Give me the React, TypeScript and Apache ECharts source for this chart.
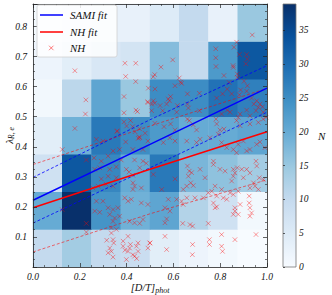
import React, { useEffect, useRef } from "react";
import * as echarts from "echarts";

// ---- data ----
const xBinLabels = ["0.0625", "0.1875", "0.3125", "0.4375", "0.5625", "0.6875", "0.8125", "0.9375"];
const yBinLabels = ["0.0625", "0.1875", "0.3125", "0.4375", "0.5625", "0.6875", "0.8125"];
// counts per row, bottom row first
const countRow0 = [10, 14, 10, 9, 4, 2, 1, 0];
const countRow1 = [20, 39, 24, 19, 21, 12, 8, 1];
const countRow2 = [8, 33, 26, 20, 28, 18, 16, 14];
const countRow3 = [4, 19, 28, 25, 23, 20, 20, 21];
const countRow4 = [1, 11, 21, 15, 25, 25, 29, 27];
const countRow5 = [2, 4, 6, 7, 17, 10, 23, 33];
const countRow6 = [1, 2, 3, 3, 5, 10, 3, 15];
const countRows = [countRow0, countRow1, countRow2, countRow3, countRow4, countRow5, countRow6];
const countMax = 38.9;
const blues = ["#f7fbff", "#deebf7", "#c6dbef", "#9ecae1", "#6baed6", "#4292c6", "#2171b5", "#08519c", "#08306b"];

const samiFit = [[0, 0.222], [0.5, 0.408], [1, 0.595]];
const samiUpper = [[0, 0.298], [0.5, 0.49], [1, 0.67]];
const samiLower = [[0, 0.146], [0.5, 0.33], [1, 0.515]];
const nhFit = [[0, 0.197], [0.5, 0.325], [1, 0.45]];
const nhUpper = [[0, 0.341], [0.5, 0.469], [1, 0.594]];
const nhLower = [[0, 0.05], [0.5, 0.177], [1, 0.29]];

const nhPoints = [
  // upper left
  [0.179, 0.653], [0.393, 0.678], [0.439, 0.678], [0.396, 0.634], [0.439, 0.617], [0.226, 0.556],
  [0.389, 0.567], [0.224, 0.509], [0.446, 0.517], [0.44, 0.522], [0.179, 0.461], [0.389, 0.513],
  [0.359, 0.451], [0.389, 0.483], [0.417, 0.487], [0.4, 0.469], [0.426, 0.467], [0.36, 0.453],
  [0.454, 0.433], [0.479, 0.445], [0.45, 0.428], [0.436, 0.45], [0.493, 0.595], [0.49, 0.55],
  [0.455, 0.46], [0.491, 0.547],
  // upper right
  [0.937, 0.772], [0.87, 0.748], [0.859, 0.731], [0.781, 0.726], [0.882, 0.707], [0.913, 0.707],
  [0.916, 0.692], [0.781, 0.696], [0.91, 0.676], [0.597, 0.689], [0.547, 0.665], [0.782, 0.667],
  [0.855, 0.67], [0.856, 0.664], [0.52, 0.64], [0.514, 0.633], [0.625, 0.629], [0.631, 0.615],
  [0.635, 0.611], [0.873, 0.642], [0.873, 0.631], [0.816, 0.637], [0.838, 0.614], [0.902, 0.618],
  [0.916, 0.603], [0.607, 0.603], [0.521, 0.592], [0.83, 0.592], [0.887, 0.589], [0.913, 0.585],
  [0.66, 0.576], [0.711, 0.578], [0.588, 0.567], [0.578, 0.559], [0.583, 0.553], [0.81, 0.576],
  [0.849, 0.576], [0.882, 0.573], [0.785, 0.562], [0.934, 0.562], [0.956, 0.553], [0.944, 0.542],
  [0.97, 0.542], [0.981, 0.533], [0.963, 0.531], [0.953, 0.52], [0.984, 0.515], [0.996, 0.498],
  [0.514, 0.553], [0.52, 0.545], [0.507, 0.542], [0.571, 0.542], [0.543, 0.537], [0.554, 0.52],
  [0.66, 0.542], [0.664, 0.529], [0.617, 0.537], [0.614, 0.515], [0.507, 0.52], [0.711, 0.52],
  [0.806, 0.509], [0.83, 0.522], [0.842, 0.515], [0.877, 0.498], [0.885, 0.509], [0.913, 0.522],
  [0.927, 0.503], [0.782, 0.492], [0.785, 0.476], [0.799, 0.456], [0.816, 0.459], [0.792, 0.442],
  [0.66, 0.492], [0.668, 0.487], [0.521, 0.478], [0.56, 0.467], [0.588, 0.476], [0.607, 0.456],
  [0.685, 0.473], [0.699, 0.456], [0.87, 0.487], [0.885, 0.47], [0.927, 0.476], [0.963, 0.481],
  [0.984, 0.492],
  // lower left
  [0.125, 0.391], [0.228, 0.356], [0.261, 0.363], [0.292, 0.352], [0.321, 0.369], [0.342, 0.386],
  [0.37, 0.391], [0.396, 0.416], [0.456, 0.43], [0.491, 0.419], [0.427, 0.391], [0.47, 0.391],
  [0.271, 0.425], [0.299, 0.419], [0.285, 0.33], [0.328, 0.325], [0.356, 0.333], [0.264, 0.325],
  [0.292, 0.293], [0.321, 0.302], [0.356, 0.297], [0.342, 0.269], [0.399, 0.325], [0.41, 0.316],
  [0.427, 0.305], [0.456, 0.33], [0.47, 0.352], [0.434, 0.356], [0.484, 0.345], [0.377, 0.356],
  [0.256, 0.263], [0.278, 0.269], [0.313, 0.275], [0.427, 0.28], [0.434, 0.269], [0.463, 0.263],
  [0.427, 0.258], [0.392, 0.23], [0.406, 0.219], [0.42, 0.225], [0.264, 0.186], [0.285, 0.182],
  [0.321, 0.197], [0.328, 0.175], [0.342, 0.191], [0.363, 0.197], [0.37, 0.169], [0.349, 0.163],
  [0.342, 0.152], [0.299, 0.219], [0.271, 0.219], [0.228, 0.145], [0.228, 0.116], [0.125, 0.191],
  [0.413, 0.152], [0.434, 0.147], [0.456, 0.145], [0.47, 0.158], [0.463, 0.213], [0.491, 0.208],
  [0.335, 0.13], [0.356, 0.125], [0.335, 0.113], [0.342, 0.091], [0.345, 0.08], [0.328, 0.063],
  [0.335, 0.052], [0.321, 0.047], [0.342, 0.033], [0.406, 0.102], [0.416, 0.075], [0.413, 0.063],
  [0.406, 0.052], [0.427, 0.041], [0.449, 0.08], [0.442, 0.069], [0.499, 0.08], [0.491, 0.063],
  [0.434, 0.036], [0.449, 0.052], [0.399, 0.025], [0.385, 0.069], [0.385, 0.086], [0.315, 0.089],
  [0.393, 0.056], [0.443, 0.028],
  // lower right
  [0.607, 0.419], [0.657, 0.419], [0.699, 0.414], [0.714, 0.425], [0.585, 0.43], [0.557, 0.414],
  [0.756, 0.43], [0.806, 0.414], [0.828, 0.397], [0.856, 0.391], [0.877, 0.408], [0.899, 0.419],
  [0.913, 0.386], [0.927, 0.391], [0.956, 0.408], [0.97, 0.416], [0.991, 0.397], [0.87, 0.38],
  [0.514, 0.308], [0.55, 0.258], [0.578, 0.225], [0.607, 0.293], [0.66, 0.336], [0.668, 0.319],
  [0.664, 0.302], [0.678, 0.314], [0.674, 0.28], [0.685, 0.271], [0.657, 0.269], [0.714, 0.325],
  [0.735, 0.297], [0.642, 0.258], [0.771, 0.352], [0.771, 0.341], [0.799, 0.325], [0.821, 0.319],
  [0.856, 0.325], [0.863, 0.313], [0.856, 0.302], [0.849, 0.286], [0.873, 0.33], [0.892, 0.325],
  [0.899, 0.297], [0.913, 0.325], [0.927, 0.313], [0.953, 0.352], [0.956, 0.336], [0.967, 0.297],
  [0.984, 0.291], [0.942, 0.28], [0.963, 0.258], [0.927, 0.263], [0.949, 0.269], [0.778, 0.269],
  [0.806, 0.258], [0.813, 0.23], [0.828, 0.225], [0.842, 0.247], [0.785, 0.236], [0.749, 0.247],
  [0.764, 0.252], [0.728, 0.23], [0.856, 0.241], [0.877, 0.252], [0.885, 0.208], [0.863, 0.197],
  [0.856, 0.175], [0.877, 0.175], [0.863, 0.186], [0.642, 0.208], [0.635, 0.219], [0.657, 0.23],
  [0.692, 0.23], [0.614, 0.225], [0.564, 0.197], [0.585, 0.186], [0.564, 0.147], [0.571, 0.16],
  [0.564, 0.102], [0.571, 0.058], [0.64, 0.145], [0.671, 0.141], [0.682, 0.136], [0.749, 0.145],
  [0.778, 0.197], [0.785, 0.2], [0.771, 0.213], [0.924, 0.236], [0.924, 0.213], [0.927, 0.197],
  [0.927, 0.169], [0.934, 0.18], [0.953, 0.108], [0.754, 0.091], [0.754, 0.075], [0.806, 0.108],
  [0.806, 0.069], [0.81, 0.052], [0.863, 0.091], [0.682, 0.075], [0.681, 0.041], [0.5, 0.08],
];

const xTickLabels = ["0.0", "0.2", "0.4", "0.6", "0.8", "1.0"];

// ---- styling ----
const serif = "'Liberation Serif', 'Times New Roman', serif";
const axisColor = "#222";
const pointColor = "rgba(255,0,0,0.5)";

function buildHeat() {
  const out: number[][] = [];
  countRows.forEach((row, yi) => row.forEach((v, xi) => out.push([xi, yi, v])));
  return out;
}

export default function App() {
  const ref = useRef<HTMLDivElement>(null);
  useEffect(() => {
    if (!ref.current) return;
    const chart = echarts.init(ref.current, undefined, { renderer: "svg" });
    const labelStyle = { fontFamily: serif, fontStyle: "italic", fontSize: 9.5, color: "#111" };
    const tickCommon = (pos: string) => ({
      axisLine: { show: true, onZero: false, lineStyle: { color: axisColor, width: 0.8 } },
      axisTick: { show: true, inside: true, length: 4, lineStyle: { color: axisColor, width: 0.7 } },
      minorTick: { show: true, splitNumber: 4, length: 2, lineStyle: { color: axisColor, width: 0.6 } },
      splitLine: { show: false },
      position: pos,
      z: 10,
    });
    const option: any = {
      animation: false,
      grid: [
        { left: 33, top: 4, width: 234, height: 263, containLabel: false, outerBoundsMode: "none" },
        { left: 283, top: 4, width: 13, height: 263, containLabel: false, outerBoundsMode: "none" },
      ],
      visualMap: {
        type: "continuous",
        show: false,
        min: 0,
        max: countMax,
        seriesIndex: 0,
        inRange: { color: blues },
      },
      xAxis: [
        {
          type: "value", gridIndex: 0, min: 0, max: 1, interval: 0.2,
          ...tickCommon("bottom"),
          axisLabel: { ...labelStyle, margin: 5, formatter: (v: number) => xTickLabels[Math.round(v / 0.2)] ?? "" },
          name: "{a|[D/T]}{b|phot}",
          nameLocation: "middle",
          nameGap: 13,
          nameMoveOverlap: false,
          nameTextStyle: {
            rich: {
              a: { fontFamily: serif, fontStyle: "italic", fontSize: 10.5, color: "#111" },
              b: { fontFamily: serif, fontStyle: "italic", fontSize: 8, color: "#111", padding: [6, 0, 0, 0] },
            },
          },
        },
        {
          type: "value", gridIndex: 0, min: 0, max: 1, interval: 0.2,
          ...tickCommon("top"),
          axisLabel: { show: false },
        },
        { type: "category", gridIndex: 0, data: xBinLabels, show: false, position: "bottom" },
        { type: "value", gridIndex: 1, min: 0, max: 1, show: false },
      ],
      yAxis: [
        {
          type: "value", gridIndex: 0, min: 0, max: 0.875, interval: 0.1,
          ...tickCommon("left"),
          axisLabel: { ...labelStyle, margin: 6, showMinLabel: false, showMaxLabel: false, formatter: (v: number) => v.toFixed(1) },
          name: "{a|λ}{b|R, e}",
          nameLocation: "middle",
          nameGap: 18,
          nameRotate: 90,
          nameMoveOverlap: false,
          nameTextStyle: {
            rich: {
              a: { fontFamily: serif, fontStyle: "italic", fontSize: 11, color: "#111" },
              b: { fontFamily: serif, fontStyle: "italic", fontSize: 7.5, color: "#111", padding: [5, 0, 0, 0] },
            },
          },
        },
        {
          type: "value", gridIndex: 0, min: 0, max: 0.875, interval: 0.1,
          ...tickCommon("right"),
          axisLabel: { show: false },
        },
        { type: "category", gridIndex: 0, data: yBinLabels, show: false, position: "left" },
        {
          type: "value", gridIndex: 1, min: 0, max: countMax, interval: 5, position: "right",
          axisLine: { show: false },
          axisTick: { show: true, inside: false, length: 2, lineStyle: { color: axisColor, width: 0.7 } },
          splitLine: { show: false },
          axisLabel: { ...labelStyle, margin: 3, showMaxLabel: false },
          name: "N",
          nameLocation: "middle",
          nameRotate: 0,
          nameGap: 22,
          nameMoveOverlap: false,
          nameTextStyle: { fontFamily: serif, fontStyle: "italic", fontSize: 11, color: "#111", align: "left" },
          z: 10,
        },
      ],
      series: [
        {
          type: "heatmap",
          xAxisIndex: 2,
          yAxisIndex: 2,
          data: buildHeat(),
          itemStyle: { borderWidth: 0 },
          emphasis: { disabled: true },
          z: 1,
        },
        {
          type: "scatter",
          xAxisIndex: 0,
          yAxisIndex: 0,
          data: nhPoints,
          symbol: "path://M0,0L10,10M10,0L0,10",
          symbolSize: 4.5,
          itemStyle: { color: "rgba(0,0,0,0)", borderColor: pointColor, borderWidth: 1 },
          z: 3,
        },
        { type: "line", xAxisIndex: 0, yAxisIndex: 0, data: samiUpper, showSymbol: false, symbol: "none",
          lineStyle: { color: "#0000ff", width: 0.8, type: [3, 2] }, z: 4 },
        { type: "line", xAxisIndex: 0, yAxisIndex: 0, data: samiLower, showSymbol: false, symbol: "none",
          lineStyle: { color: "#0000ff", width: 0.8, type: [3, 2] }, z: 4 },
        { type: "line", xAxisIndex: 0, yAxisIndex: 0, data: nhUpper, showSymbol: false, symbol: "none",
          lineStyle: { color: "rgba(255,0,0,0.7)", width: 0.8, type: [3, 2] }, z: 4 },
        { type: "line", xAxisIndex: 0, yAxisIndex: 0, data: nhLower, showSymbol: false, symbol: "none",
          lineStyle: { color: "rgba(255,0,0,0.7)", width: 0.8, type: [3, 2] }, z: 4 },
        { type: "line", xAxisIndex: 0, yAxisIndex: 0, data: samiFit, showSymbol: false, symbol: "none",
          lineStyle: { color: "#0000ff", width: 1.5 }, z: 5 },
        { type: "line", xAxisIndex: 0, yAxisIndex: 0, data: nhFit, showSymbol: false, symbol: "none",
          lineStyle: { color: "#ff0000", width: 1.5 }, z: 5 },
      ],
      graphic: [
        {
          type: "rect",
          shape: { x: 283, y: 4, width: 13, height: 263 },
          style: {
            fill: {
              type: "linear", x: 0, y: 1, x2: 0, y2: 0,
              colorStops: blues.map((c, i) => ({ offset: i / (blues.length - 1), color: c })),
            },
            stroke: "#777",
            lineWidth: 0.8,
          },
          z: 1,
        },
        {
          type: "rect",
          shape: { x: 37, y: 5, width: 80, height: 52, r: 2 },
          style: { fill: "rgba(255,255,255,0.82)", stroke: "#d0d0d0", lineWidth: 0.8 },
          z: 100,
        },
        { type: "line", shape: { x1: 40, y1: 15, x2: 63, y2: 15 }, style: { stroke: "#0000ff", lineWidth: 1.5 }, z: 101 },
        { type: "text", x: 70, y: 15, style: { text: "SAMI fit", font: `italic 11px ${serif}`, fill: "#111", verticalAlign: "middle" }, z: 101 },
        { type: "line", shape: { x1: 40, y1: 32, x2: 63, y2: 32 }, style: { stroke: "#ff0000", lineWidth: 1.5 }, z: 101 },
        { type: "text", x: 70, y: 32, style: { text: "NH fit", font: `italic 11px ${serif}`, fill: "#111", verticalAlign: "middle" }, z: 101 },
        { type: "line", shape: { x1: 49, y1: 45.7, x2: 53.5, y2: 50.2 }, style: { stroke: pointColor, lineWidth: 1 }, z: 101 },
        { type: "line", shape: { x1: 53.5, y1: 45.7, x2: 49, y2: 50.2 }, style: { stroke: pointColor, lineWidth: 1 }, z: 101 },
        { type: "text", x: 70, y: 48, style: { text: "NH", font: `italic 11px ${serif}`, fill: "#111", verticalAlign: "middle" }, z: 101 },
      ],
    };
    chart.setOption(option);
    return () => chart.dispose();
  }, []);
  return <div ref={ref} style={{ width: 332, height: 295, position: "absolute", left: 0, top: 0 }} />;
}
